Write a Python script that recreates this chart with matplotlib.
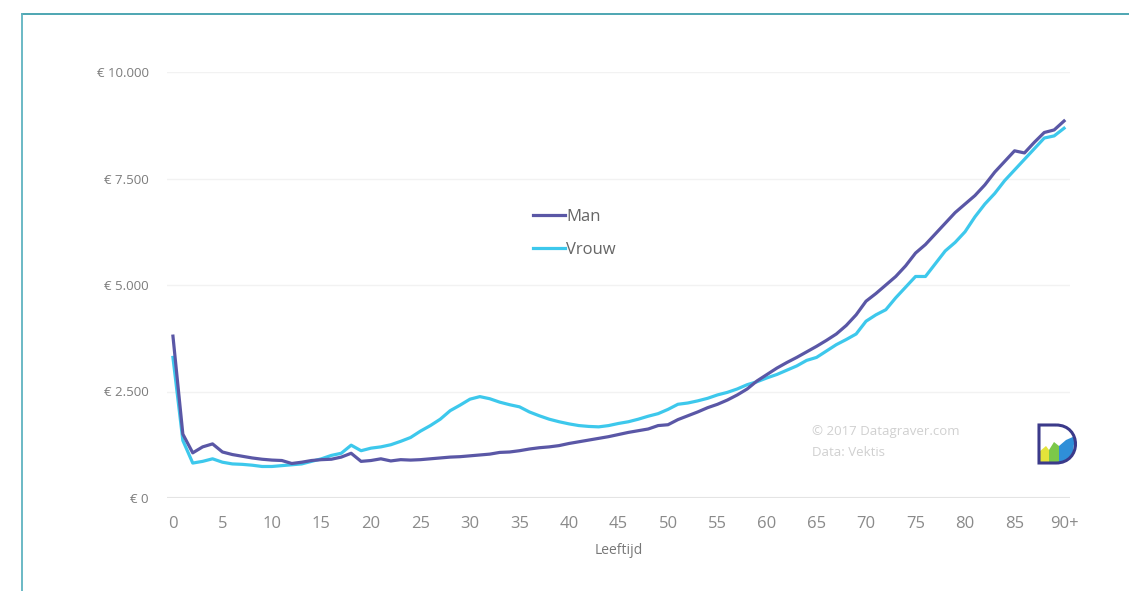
import matplotlib
matplotlib.use("Agg")
import matplotlib.pyplot as plt
from matplotlib.lines import Line2D
from matplotlib.patches import Polygon, PathPatch
from matplotlib.path import Path

# ---- data ----
ages = list(range(0, 91))
man = [3800, 1500, 1060, 1200, 1270, 1080, 1020, 980, 940, 910,
       890, 880, 810, 840, 880, 900, 910, 960, 1050, 860,
       880, 920, 870, 900, 890, 900, 920, 940, 960, 970,
       990, 1010, 1030, 1070, 1080, 1110, 1150, 1180, 1200, 1230,
       1280, 1320, 1360, 1400, 1440, 1490, 1540, 1580, 1620, 1700,
       1720, 1840, 1930, 2020, 2120, 2200, 2300, 2420, 2560, 2750,
       2900, 3050, 3180, 3300, 3430, 3560, 3700, 3850, 4050, 4300,
       4620, 4800, 5000, 5200, 5450, 5750, 5950, 6200, 6450, 6700,
       6900, 7100, 7350, 7650, 7900, 8150, 8100, 8350, 8580, 8640,
       8850]
vrouw = [3300, 1350, 820, 860, 920, 840, 800, 790, 770, 740,
         740, 760, 780, 800, 860, 920, 1000, 1050, 1240, 1110,
         1170, 1200, 1250, 1330, 1420, 1570, 1700, 1850, 2050, 2180,
         2320, 2380, 2330, 2250, 2190, 2140, 2020, 1930, 1850, 1790,
         1740, 1700, 1680, 1670, 1700, 1750, 1790, 1850, 1920, 1980,
         2080, 2200, 2230, 2280, 2340, 2420, 2480, 2560, 2660, 2730,
         2820, 2900, 3000, 3100, 3230, 3300, 3450, 3600, 3720, 3850,
         4150, 4300, 4420, 4700, 4950, 5200, 5200, 5500, 5800, 6000,
         6250, 6600, 6900, 7150, 7450, 7700, 7950, 8200, 8450, 8500,
         8680]
x_ticks = list(range(0, 91, 5))
x_ticklabels = [str(v) for v in range(0, 90, 5)] + ["90+"]
y_ticks = [0, 2500, 5000, 7500, 10000]
y_ticklabels = ["€ 0", "€ 2.500", "€ 5.000", "€ 7.500", "€ 10.000"]

plt.rcParams['font.family'] = ['Open Sans', 'DejaVu Sans']

W, H = 1129, 591
fig = plt.figure(figsize=(W / 100, H / 100), dpi=100)
fig.patch.set_facecolor("white")

ax = fig.add_axes([167 / W, 1 - 498 / H, (1070 - 167) / W, (498 - 72) / H])
ax.set_facecolor("white")

c_man = "#5a57a6"
c_vrouw = "#3dc8ec"
ax.plot(ages, man, color=c_man, lw=2.3, label="Man", zorder=3, solid_joinstyle="round")
ax.plot(ages, vrouw, color=c_vrouw, lw=2.3, label="Vrouw", zorder=2, solid_joinstyle="round")

ax.set_xlim(-0.6, 90.6)
ax.set_ylim(0, 10000)
ax.set_xticks(x_ticks)
ax.set_xticklabels(x_ticklabels, fontsize=12, color="#8a8a8a")
ax.set_yticks(y_ticks)
ax.set_yticklabels(y_ticklabels, fontsize=9.5, color="#7c7c7c")
ax.tick_params(axis="both", length=0)
ax.tick_params(axis="x", pad=13)
ax.tick_params(axis="y", pad=13)
for s in ax.spines.values():
    s.set_visible(False)
ax.grid(axis="y", color="#f2f2f2", lw=1.0)
ax.axhline(0, color="#e4e4e4", lw=1.5, zorder=1)
ax.set_axisbelow(True)
ax.set_xlabel("Leeftijd", fontsize=10, color="#777777", labelpad=8)

leg = ax.legend(loc="upper left", bbox_to_anchor=(518 / W, 1 - 194 / H),
                bbox_transform=fig.transFigure, frameon=False, fontsize=12,
                labelspacing=1.0, handlelength=1.9, handletextpad=0.1)
for t in leg.get_texts():
    t.set_color("#666666")

fig.text(812 / W, 1 - 432 / H, "© 2017 Datagraver.com", fontsize=9.5,
         color="#d0d0d0", va="center", ha="left")
fig.text(812 / W, 1 - 452 / H, "Data: Vektis", fontsize=9.5,
         color="#d0d0d0", va="center", ha="left")

# simple logo approximation (figure pixel coords)
def fp(x, y):
    return (x / W, 1 - y / H)

fig.add_artist(Polygon([fp(1039, 462), fp(1039, 452), fp(1046, 446), fp(1049, 450), fp(1049, 462)],
                       closed=True, facecolor="#e3e33a", edgecolor="none", transform=fig.transFigure))
fig.add_artist(Polygon([fp(1049, 462), fp(1049, 450), fp(1054, 442), fp(1059, 446), fp(1059, 462)],
                       closed=True, facecolor="#7cc84a", edgecolor="none", transform=fig.transFigure))
fig.add_artist(Polygon([fp(1059, 462), fp(1059, 446), fp(1066, 440), fp(1075, 436), fp(1073, 452), fp(1066, 462)],
                       closed=True, facecolor="#2f8fd8", edgecolor="none", transform=fig.transFigure))
verts = [fp(1056, 425), fp(1039, 425), fp(1039, 463), fp(1056, 463),
         fp(1082, 463), fp(1082, 425), fp(1056, 425)]
codes = [Path.MOVETO, Path.LINETO, Path.LINETO, Path.LINETO,
         Path.CURVE4, Path.CURVE4, Path.CURVE4]
fig.add_artist(PathPatch(Path(verts, codes), facecolor="none", edgecolor="#3b3a8a",
                         lw=2.2, transform=fig.transFigure))

# teal frame (top and left)
fig.add_artist(Line2D([22 / W, 1.0], [1 - 14 / H, 1 - 14 / H], color="#3f9fac", lw=1.3,
                      transform=fig.transFigure))
fig.add_artist(Line2D([22 / W, 22 / W], [0, 1 - 14 / H], color="#5fb3c0", lw=1.3,
                      transform=fig.transFigure))

fig.savefig("out.png", dpi=100, facecolor="white")
